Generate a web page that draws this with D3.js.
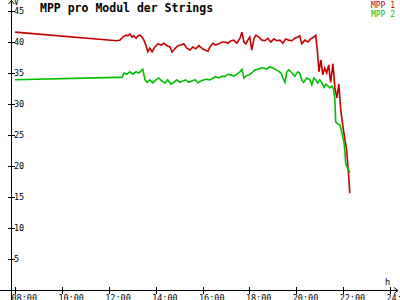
<!DOCTYPE html>
<html>
<head>
<meta charset="utf-8">
<script src="https://cdn.jsdelivr.net/npm/d3@7"></script>
<style>
body { margin: 0; background: #fff; }
svg { display: block; }
text { font-family: "DejaVu Sans Mono", monospace; }
</style>
</head>
<body>
<script>
var WIDTH = 400;
var HEIGHT = 300;

var seriesNames = ["MPP 1", "MPP 2"];
var seriesColors = ["#c80000", "#00c000"];

var xTicks = [8, 10, 12, 14, 16, 18, 20, 22, 24];
var xTickLabels = ["08:00", "10:00", "12:00", "14:00", "16:00", "18:00", "20:00", "22:00", "24:"];
var yTicks = [5, 10, 15, 20, 25, 30, 35, 40, 45];

var mpp1Times = ["08:00","12:21","12:29","12:36","12:44","12:49","12:54","12:59","13:04","13:10",
    "13:15","13:20","13:25","13:30","13:35","13:40","13:45","13:51","13:58","14:06",
    "14:14","14:21","14:29","14:37","14:42","14:49","14:57","15:05","15:12","15:20",
    "15:28","15:35","15:43","15:51","15:58","16:06","16:14","16:19","16:27","16:34",
    "16:42","16:50","16:57","17:05","17:13","17:20","17:28","17:36","17:41","17:46",
    "17:51","17:56","18:01","18:06","18:12","18:17","18:24","18:32","18:40","18:47",
    "18:55","19:03","19:10","19:18","19:26","19:33","19:41","19:49","19:56","20:04",
    "20:09","20:14","20:22","20:30","20:37","20:45","20:50","20:55","20:58","21:03",
    "21:08","21:13","21:18","21:23","21:28","21:34","21:39","21:44","21:49","21:54",
    "21:59","22:04","22:09","22:12","22:15","22:17"];
var mpp1Values = [41.6,40.2,40.3,40.8,41.1,41.0,41.3,40.8,41.0,40.6,
    41.0,41.1,40.8,40.3,39.5,38.4,39.0,38.4,39.2,39.7,
    39.5,39.8,39.4,39.2,38.4,38.9,39.4,39.5,39.7,39.0,
    38.7,39.2,38.9,39.4,39.0,38.7,38.5,39.2,39.8,39.5,
    39.7,40.0,40.0,39.8,40.2,40.3,39.8,40.6,41.6,40.0,
    39.7,40.3,40.8,38.7,40.6,41.1,40.8,40.3,40.2,40.6,
    40.0,40.5,40.2,40.3,39.8,40.5,40.3,40.2,40.6,40.8,
    41.0,39.7,40.3,40.0,40.5,40.8,41.1,37.9,35.2,37.1,
    34.7,35.8,35.0,36.3,33.5,36.5,32.6,31.0,33.2,29.0,
    26.6,24.5,22.6,20.2,17.7,15.6];

var mpp2Times = ["08:00","12:21","12:34","12:39","12:47","12:54","13:02","13:10","13:17","13:22",
    "13:27","13:33","13:38","13:45","13:53","14:01","14:08","14:16","14:24","14:31",
    "14:39","14:47","14:54","15:02","15:10","15:17","15:25","15:33","15:41","15:48",
    "15:56","16:04","16:11","16:19","16:27","16:34","16:42","16:50","16:57","17:05",
    "17:13","17:20","17:28","17:36","17:41","17:46","17:51","17:59","18:06","18:14",
    "18:22","18:29","18:37","18:45","18:52","19:00","19:08","19:15","19:21","19:26",
    "19:31","19:36","19:41","19:49","19:56","20:04","20:09","20:14","20:19","20:27",
    "20:35","20:40","20:45","20:50","20:55","21:00","21:05","21:11","21:16","21:21",
    "21:26","21:31","21:36","21:39","21:41","21:46","21:52","21:57","22:02","22:04",
    "22:07","22:12","22:17"];
var mpp2Values = [33.9,34.3,34.3,35.0,34.8,35.2,34.8,35.2,35.0,35.3,
    35.6,33.9,33.5,33.9,33.4,33.9,34.2,33.7,33.4,33.9,
    33.2,33.5,33.9,33.5,33.7,33.9,33.5,33.7,33.9,33.4,
    33.7,33.9,34.0,33.9,34.2,34.4,34.2,34.5,34.4,34.8,
    34.7,34.5,34.8,35.2,35.6,34.2,34.5,34.7,35.0,35.5,
    35.6,35.8,35.8,35.6,36.0,35.8,35.5,35.3,35.0,34.2,
    33.5,35.2,35.5,35.0,34.5,35.2,35.0,33.9,33.5,34.2,
    33.9,33.1,34.2,33.9,33.4,33.9,33.5,32.7,33.2,32.9,
    32.6,32.9,32.3,30.6,27.1,26.8,26.6,25.3,23.9,22.6,
    20.2,19.7,18.9];

function toHours(s) {
    var p = s.split(":");
    return +p[0] + (+p[1]) / 60;
}

function makeSeries(times, values) {
    return times.map(function(t, i) { return {h: toHours(t), v: values[i]}; });
}

var series = [makeSeries(mpp1Times, mpp1Values), makeSeries(mpp2Times, mpp2Values)];

var x = d3.scaleLinear().domain([8, 24]).range([15, 390]);
var y = d3.scaleLinear().domain([0, 45]).range([290, 11]);

var svg = d3.select("body").append("svg")
    .attr("width", WIDTH)
    .attr("height", HEIGHT);

svg.append("rect").attr("width", WIDTH).attr("height", HEIGHT).attr("fill", "#fff");

// data lines
var line = d3.line()
    .x(function(d) { return x(d.h); })
    .y(function(d) { return y(d.v); });

series.forEach(function(s, i) {
    svg.append("path")
        .datum(s)
        .attr("d", line)
        .attr("fill", "none")
        .attr("stroke", seriesColors[i])
        .attr("stroke-width", 1.6);
});

// axes (drawn by hand to get the arrow style)
var axisG = svg.append("g").attr("stroke", "#000").attr("fill", "none").attr("stroke-width", 1);
axisG.append("line").attr("x1", 11.5).attr("y1", 0).attr("x2", 11.5).attr("y2", 300);
axisG.append("line").attr("x1", 0).attr("y1", 290.5).attr("x2", 398).attr("y2", 290.5);
axisG.append("path").attr("d", "M8.5,4L11.5,0.5L14.5,4");
axisG.append("path").attr("d", "M394,287.5L398,290.5L394,293.5");

axisG.selectAll(".ytick").data(yTicks).enter().append("line")
    .attr("x1", 8).attr("x2", 15)
    .attr("y1", function(d) { return Math.round(y(d)) + 0.5; })
    .attr("y2", function(d) { return Math.round(y(d)) + 0.5; });

axisG.selectAll(".xtick").data(xTicks).enter().append("line")
    .attr("x1", function(d) { return Math.round(x(d)) + 0.5; })
    .attr("x2", function(d) { return Math.round(x(d)) + 0.5; })
    .attr("y1", 287).attr("y2", 294);

svg.selectAll(".ylabel").data(yTicks).enter().append("text")
    .attr("x", 14)
    .attr("y", function(d) { return y(d) + 3; })
    .attr("font-size", 8.5)
    .text(function(d) { return d; });

svg.selectAll(".xlabel").data(xTicks).enter().append("text")
    .attr("x", function(d) { return x(d) - 3.5; })
    .attr("y", 300.5)
    .attr("font-size", 8.5)
    .text(function(d, i) { return xTickLabels[i]; });

svg.append("text").attr("x", 14).attr("y", 5).attr("font-size", 8).text("V");
svg.append("text").attr("x", 385).attr("y", 285).attr("font-size", 8.5).text("h");

// title
svg.append("text")
    .attr("x", 40).attr("y", 12)
    .attr("font-size", 11.5)
    .attr("font-weight", "bold")
    .text("MPP pro Modul der Strings");

// legend
svg.selectAll(".legend").data(seriesNames).enter().append("text")
    .attr("x", 395)
    .attr("y", function(d, i) { return 8 + i * 8.5; })
    .attr("text-anchor", "end")
    .attr("font-size", 8)
    .attr("fill", function(d, i) { return seriesColors[i]; })
    .text(function(d) { return d; });
</script>
</body>
</html>
